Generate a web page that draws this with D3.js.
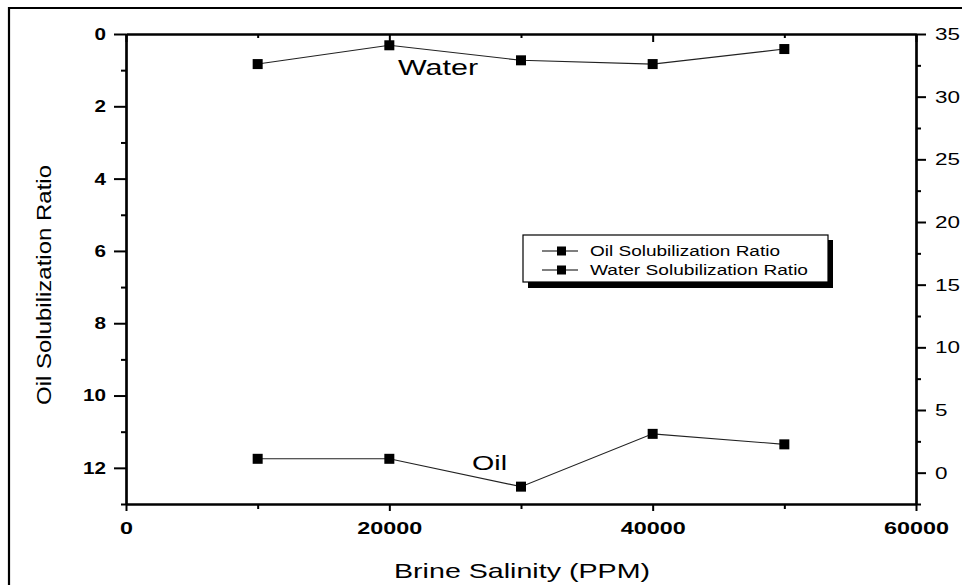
<!DOCTYPE html>
<html>
<head>
<meta charset="utf-8">
<script src="https://cdn.jsdelivr.net/npm/d3@7"></script>
<style>
  html, body { margin: 0; padding: 0; background: #fff; }
  svg text { font-family: "Liberation Sans", Arial, sans-serif; fill: #000; }
</style>
</head>
<body>
<svg id="chart"></svg>
<script>
// salinity values (PPM)
const salinity = [10000, 20000, 30000, 40000, 50000];
// left axis (inverted)
const oilRatio = [11.75, 11.75, 12.52, 11.06, 11.35];
// right axis
const waterRatio = [32.6, 34.1, 32.9, 32.6, 33.8];

const xMajor = [0, 20000, 40000, 60000];
const xMinor = [10000, 30000, 50000];
const leftMajor = [0, 2, 4, 6, 8, 10, 12];
const leftMinor = [1, 3, 5, 7, 9, 11, 13];
const rightMajor = [0, 5, 10, 15, 20, 25, 30, 35];
const rightMinor = [-2.5, 2.5, 7.5, 12.5, 17.5, 22.5, 27.5, 32.5];
const legendLabels = ["Oil Solubilization Ratio", "Water Solubilization Ratio"];

const width = 962, height = 585;
const margin = { top: 34, left: 126, right: 46, bottom: 81 };

const svg = d3.select("#chart")
  .attr("width", width)
  .attr("height", height)
  .attr("viewBox", [0, 0, width, height]);

const X = d3.scaleLinear().domain([0, 60000]).range([margin.left, width - margin.right]);
const YL = d3.scaleLinear().domain([0, 13]).range([margin.top, height - margin.bottom]);
const YR = d3.scaleLinear().domain([-2.5, 35]).range([height - margin.bottom, margin.top]);

// outer frame (only top and left edges are visible in the picture)
svg.append("path")
  .attr("d", `M9,${height + 5} V8 H${width + 5}`)
  .attr("fill", "none")
  .attr("stroke", "#000")
  .attr("stroke-width", 2.2);

function stretch(sel, per) {
  sel.attr("textLength", function () { return this.textContent.length * per; })
    .attr("lengthAdjust", "spacingAndGlyphs");
}

function styleAxis(g) {
  g.selectAll(".domain").attr("stroke", "#000").attr("stroke-width", 2.2);
  g.selectAll(".tick line").attr("stroke", "#000").attr("stroke-width", 2);
}

// bottom axis
const xAxisG = svg.append("g")
  .attr("transform", `translate(0,${YL(13)})`)
  .call(d3.axisBottom(X).tickValues(xMajor).tickSize(7).tickSizeOuter(0).tickPadding(11).tickFormat(d3.format("d")));
xAxisG.call(styleAxis);
xAxisG.selectAll("text").attr("font-size", 17).attr("font-weight", "bold").call(stretch, 13);
svg.append("g")
  .attr("transform", `translate(0,${YL(13)})`)
  .call(d3.axisBottom(X).tickValues(xMinor).tickSize(5).tickSizeOuter(0).tickFormat(""))
  .call(styleAxis);

// top axis, ticks inward
const topG = svg.append("g")
  .attr("transform", `translate(0,${margin.top})`)
  .call(d3.axisBottom(X).tickValues(xMajor).tickSize(8).tickSizeOuter(0).tickFormat(""))
  .call(styleAxis);
svg.append("g")
  .attr("transform", `translate(0,${margin.top})`)
  .call(d3.axisBottom(X).tickValues(xMinor).tickSize(4).tickSizeOuter(0).tickFormat(""))
  .call(styleAxis);

// left axis
const leftG = svg.append("g")
  .attr("transform", `translate(${margin.left},0)`)
  .call(d3.axisLeft(YL).tickValues(leftMajor).tickSize(12).tickSizeOuter(0).tickPadding(8));
leftG.call(styleAxis);
leftG.selectAll("text").attr("font-size", 17).attr("font-weight", "bold").call(stretch, 11.5);
svg.append("g")
  .attr("transform", `translate(${margin.left},0)`)
  .call(d3.axisLeft(YL).tickValues(leftMinor).tickSize(5).tickSizeOuter(0).tickFormat(""))
  .call(styleAxis);

// right axis
const rightG = svg.append("g")
  .attr("transform", `translate(${width - margin.right},0)`)
  .call(d3.axisRight(YR).tickValues(rightMajor).tickSize(10).tickSizeOuter(0).tickPadding(9));
rightG.call(styleAxis);
rightG.selectAll("text").attr("font-size", 17).call(stretch, 12.5);
svg.append("g")
  .attr("transform", `translate(${width - margin.right},0)`)
  .call(d3.axisRight(YR).tickValues(rightMinor).tickSize(5).tickSizeOuter(0).tickFormat(""))
  .call(styleAxis);

// axis titles
svg.append("text")
  .attr("x", (X(0) + X(60000)) / 2 + 1)
  .attr("y", 578)
  .attr("text-anchor", "middle")
  .attr("font-size", 21)
  .attr("textLength", 256)
  .attr("lengthAdjust", "spacingAndGlyphs")
  .text("Brine Salinity (PPM)");

svg.append("text")
  .attr("transform", `translate(51,${(165 + 405) / 2}) rotate(-90)`)
  .attr("text-anchor", "middle")
  .attr("font-size", 21)
  .attr("textLength", 240)
  .attr("lengthAdjust", "spacingAndGlyphs")
  .text("Oil Solubilization Ratio");

// series
const oilPts = salinity.map((s, i) => [X(s), YL(oilRatio[i])]);
const waterPts = salinity.map((s, i) => [X(s), YR(waterRatio[i])]);

const series = svg.append("g");
[oilPts, waterPts].forEach((pts) => {
  series.append("path")
    .attr("d", d3.line()(pts))
    .attr("fill", "none")
    .attr("stroke", "#222")
    .attr("stroke-width", 1.1);
  series.selectAll(null)
    .data(pts)
    .enter()
    .append("rect")
    .attr("x", (d) => d[0] - 5)
    .attr("y", (d) => d[1] - 5)
    .attr("width", 10)
    .attr("height", 10)
    .attr("fill", "#000");
});

// in-plot labels
svg.append("text")
  .attr("x", X(20660))
  .attr("y", YL(1.13))
  .attr("font-size", 22)
  .attr("textLength", 80)
  .attr("lengthAdjust", "spacingAndGlyphs")
  .text("Water");
svg.append("text")
  .attr("x", X(26280))
  .attr("y", YL(12.06))
  .attr("font-size", 21)
  .attr("textLength", 35)
  .attr("lengthAdjust", "spacingAndGlyphs")
  .text("Oil");

// legend
const legend = svg.append("g").attr("transform", "translate(523,235)");
legend.append("rect")
  .attr("x", 5).attr("y", 5)
  .attr("width", 305).attr("height", 48)
  .attr("fill", "#000");
legend.append("rect")
  .attr("x", 0).attr("y", 0)
  .attr("width", 305).attr("height", 47)
  .attr("fill", "#fff")
  .attr("stroke", "#000")
  .attr("stroke-width", 1.2);

const rows = legend.selectAll(".row")
  .data(legendLabels)
  .enter()
  .append("g")
  .attr("class", "row")
  .attr("transform", (d, i) => `translate(0,${16 + i * 19})`);
rows.append("line")
  .attr("x1", 19).attr("x2", 55)
  .attr("y1", 0).attr("y2", 0)
  .attr("stroke", "#000")
  .attr("stroke-width", 1.2);
rows.append("rect")
  .attr("x", 34).attr("y", -4.5)
  .attr("width", 9).attr("height", 9)
  .attr("fill", "#000");
rows.append("text")
  .attr("x", 67)
  .attr("y", 5)
  .attr("font-size", 14)
  .attr("textLength", (d, i) => (i === 0 ? 190 : 218))
  .attr("lengthAdjust", "spacingAndGlyphs")
  .text((d) => d);
</script>
</body>
</html>
